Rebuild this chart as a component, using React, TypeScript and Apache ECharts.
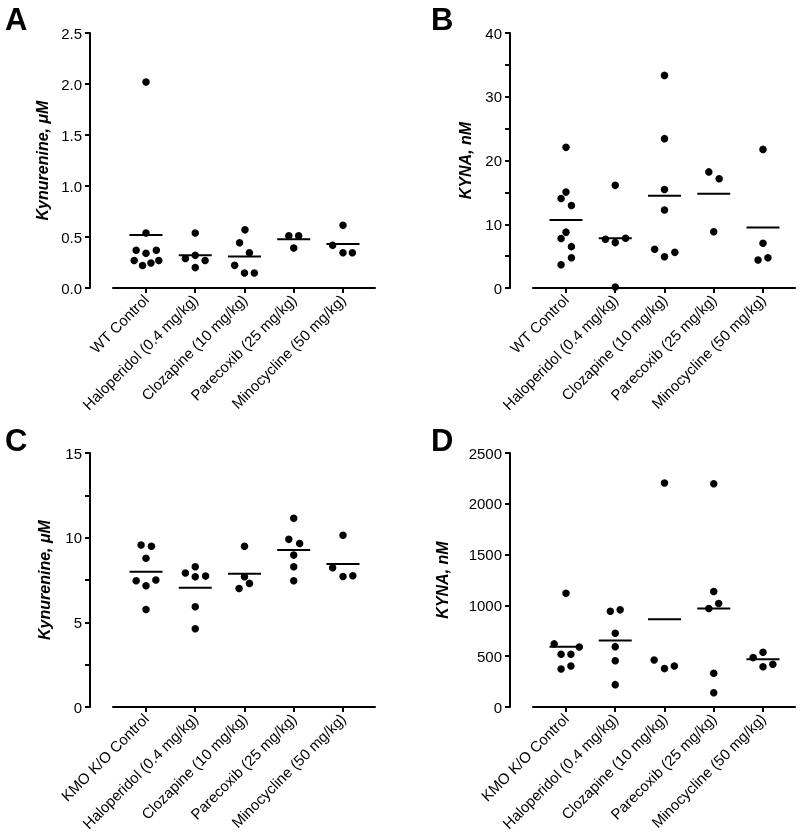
import React, { useEffect, useRef } from "react";
import * as echarts from "echarts";

const categoriesTop = ["WT Control", "Haloperidol (0.4 mg/kg)", "Clozapine (10 mg/kg)", "Parecoxib (25 mg/kg)", "Minocycline (50 mg/kg)"];
const categoriesBottom = ["KMO K/O Control", "Haloperidol (0.4 mg/kg)", "Clozapine (10 mg/kg)", "Parecoxib (25 mg/kg)", "Minocycline (50 mg/kg)"];

// Panel A: Kynurenine (µM), WT
const aValues = [
  [2.02, 0.54, 0.37, 0.34, 0.37, 0.27, 0.22, 0.245, 0.27],
  [0.54, 0.29, 0.32, 0.27, 0.2],
  [0.57, 0.444, 0.346, 0.222, 0.147, 0.147],
  [0.513, 0.513, 0.392],
  [0.614, 0.418, 0.346, 0.346],
];
const aJitter = [
  [0, 0, -0.2, 0, 0.21, -0.24, -0.07, 0.1, 0.26],
  [0, -0.2, 0, 0.2, 0],
  [0.01, -0.1, 0.1, -0.2, 0, 0.2],
  [-0.1, 0.1, 0],
  [0, -0.21, 0, 0.19],
];
const aMeans = [0.52, 0.32, 0.31, 0.477, 0.431];

// Panel B: KYNA (nM), WT
const bValues = [
  [22.06, 15.04, 14.04, 12.93, 8.76, 7.76, 6.49, 4.75, 3.64],
  [16.1, 7.65, 7.12, 7.81, 0.16],
  [33.35, 23.43, 15.46, 12.24, 6.07, 4.91, 5.59],
  [18.21, 17.15, 8.81],
  [21.74, 7.02, 4.38, 4.75],
];
const bJitter = [
  [0, 0, -0.1, 0.11, 0, -0.1, 0.11, 0.11, -0.1],
  [0, -0.2, 0, 0.21, 0],
  [0, 0, 0, 0, -0.2, 0, 0.21],
  [-0.1, 0.11, 0],
  [0, 0, -0.1, 0.1],
];
const bMeans = [10.66, 7.81, 14.46, 14.78, 9.5];

// Panel C: Kynurenine (µM), KMO K/O
const cValues = [
  [9.57, 9.49, 8.78, 7.46, 7.16, 7.5, 5.76],
  [8.28, 7.91, 7.69, 7.73, 5.92, 4.62],
  [9.49, 7.69, 7.0, 7.3],
  [11.14, 9.9, 9.66, 8.97, 8.28, 7.46],
  [10.14, 8.22, 7.71, 7.75],
];
const cJitter = [
  [-0.1, 0.11, 0, -0.2, 0, 0.2, 0],
  [0, -0.2, 0, 0.21, 0, 0],
  [0, 0, -0.11, 0.1],
  [0, -0.1, 0.12, 0, 0, 0],
  [0, -0.21, 0, 0.2],
];
const cMeans = [7.99, 7.04, 7.87, 9.27, 8.44];

// Panel D: KYNA (nM), KMO K/O
const dValues = [
  [1120, 621, 591, 519, 519, 374, 404],
  [943, 956, 726, 594, 456, 220],
  [2204, 463, 378, 404],
  [2197, 1136, 1018, 969, 332, 141],
  [486, 539, 397, 420],
];
const dJitter = [
  [0, -0.24, 0.27, -0.1, 0.1, -0.1, 0.1],
  [-0.1, 0.1, 0, 0, 0, 0],
  [0, -0.21, 0, 0.2],
  [0, 0, 0.1, -0.1, 0, 0],
  [-0.2, 0, 0, 0.2],
];
const dMeans = [594, 654, 864, 969, 470];

const yTicksA = { min: 0, max: 2.5, interval: 0.5, decimals: 1, minor: 0 };
const yTicksB = { min: 0, max: 40, interval: 10, decimals: 0, minor: 2 };
const yTicksC = { min: 0, max: 15, interval: 5, decimals: 0, minor: 2 };
const yTicksD = { min: 0, max: 2500, interval: 500, decimals: 0, minor: 0 };

const FONT = '"Liberation Sans", Arial, Helvetica, sans-serif';

type PanelCfg = {
  values: number[][];
  jitter: number[][];
  means: number[];
  cats: string[];
  ticks: { min: number; max: number; interval: number; decimals: number; minor: number };
  nameMain: string;
  nameUnit: string;
  grid: { left: number; top: number; width: number; height: number };
  nameGap: number;
};

export default function App() {
  const ref = useRef<HTMLDivElement>(null);

  useEffect(() => {
    if (!ref.current) return;
    const chart = echarts.init(ref.current, null, { renderer: "svg" });

    const panels: PanelCfg[] = [
      { values: aValues, jitter: aJitter, means: aMeans, cats: categoriesTop, ticks: yTicksA, nameMain: "Kynurenine, ", nameUnit: "μM", grid: { left: 113, top: 33, width: 262, height: 255 }, nameGap: 40 },
      { values: bValues, jitter: bJitter, means: bMeans, cats: categoriesTop, ticks: yTicksB, nameMain: "KYNA, ", nameUnit: "nM", grid: { left: 533, top: 33, width: 262, height: 255 }, nameGap: 37 },
      { values: cValues, jitter: cJitter, means: cMeans, cats: categoriesBottom, ticks: yTicksC, nameMain: "Kynurenine, ", nameUnit: "μM", grid: { left: 113, top: 453, width: 262, height: 254 }, nameGap: 38 },
      { values: dValues, jitter: dJitter, means: dMeans, cats: categoriesBottom, ticks: yTicksD, nameMain: "KYNA, ", nameUnit: "nM", grid: { left: 533, top: 453, width: 262, height: 254 }, nameGap: 60 },
    ];

    const grids: any[] = [];
    const xAxes: any[] = [];
    const yAxes: any[] = [];
    const series: any[] = [];
    const idxs = [0, 1, 2, 3, 4];
    const tickStyle = { lineStyle: { color: "#000", width: 2 } };

    panels.forEach((p, i) => {
      grids.push({ ...p.grid, containLabel: false, outerBoundsMode: "none" });
      xAxes.push({
        type: "value",
        gridIndex: i,
        min: -0.67,
        max: 4.65,
        axisLine: { show: true, onZero: false, lineStyle: { color: "#000", width: 2 } },
        axisTick: { show: true, customValues: idxs, length: 5, ...tickStyle },
        axisLabel: {
          customValues: idxs,
          rotate: 45,
          margin: 9,
          color: "#000",
          fontSize: 15,
          fontFamily: FONT,
          formatter: (v: number) => p.cats[Math.round(v)] ?? "",
        },
        splitLine: { show: false },
      });
      yAxes.push({
        type: "value",
        gridIndex: i,
        min: p.ticks.min,
        max: p.ticks.max,
        interval: p.ticks.interval,
        offset: 23,
        name: `{b|${p.nameMain}}{u|${p.nameUnit}}`,
        nameLocation: "middle",
        nameRotate: 90,
        nameGap: p.nameGap,
        nameTextStyle: {
          color: "#000",
          rich: {
            b: { fontFamily: FONT, fontSize: 16, fontWeight: "bold", fontStyle: "italic", color: "#000" },
            u: { fontFamily: FONT, fontSize: 16, fontWeight: "bold", fontStyle: "italic", color: "#000" },
          },
        },
        axisLine: { show: true, onZero: false, lineStyle: { color: "#000", width: 2 } },
        axisTick: { show: true, length: 5, ...tickStyle },
        minorTick: { show: p.ticks.minor > 0, splitNumber: p.ticks.minor || 5, length: 5, ...tickStyle },
        axisLabel: {
          margin: 8,
          color: "#000",
          fontSize: 15,
          fontFamily: FONT,
          formatter: (v: number) => v.toFixed(p.ticks.decimals),
        },
        splitLine: { show: false },
      });
      const pts: number[][] = [];
      p.values.forEach((g, gi) => {
        g.forEach((v, k) => pts.push([gi + p.jitter[gi][k], v]));
      });
      series.push({
        type: "scatter",
        xAxisIndex: i,
        yAxisIndex: i,
        data: pts,
        symbol: "circle",
        symbolSize: 7.5,
        itemStyle: { color: "#000", opacity: 1 },
      });
      series.push({
        type: "scatter",
        xAxisIndex: i,
        yAxisIndex: i,
        data: p.means.map((m, gi) => [gi, m]),
        symbol: "rect",
        symbolSize: [33, 2],
        itemStyle: { color: "#000", opacity: 1 },
        z: 3,
      });
    });

    const letters = [
      { t: "A", x: 5, y: 4 },
      { t: "B", x: 431, y: 4 },
      { t: "C", x: 5, y: 425 },
      { t: "D", x: 431, y: 425 },
    ];

    chart.setOption({
      animation: false,
      grid: grids,
      xAxis: xAxes,
      yAxis: yAxes,
      series,
      graphic: letters.map((l) => ({
        type: "text",
        left: l.x,
        top: l.y,
        style: { text: l.t, font: `bold 31px ${FONT}`, fill: "#000" },
      })),
    });

    return () => chart.dispose();
  }, []);

  return <div ref={ref} style={{ position: "fixed", left: 0, top: 0, width: 800, height: 838 }} />;
}
